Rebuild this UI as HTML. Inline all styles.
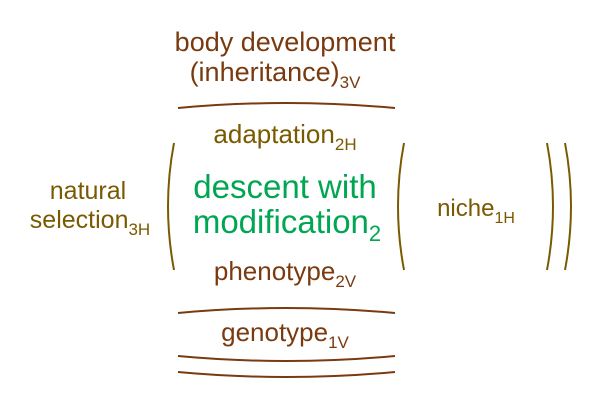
<!DOCTYPE html>
<html><head><style>
body{margin:0;background:#fff;}
svg text{font-family:"Liberation Sans",sans-serif;}
</style></head><body>
<svg width="600" height="400" viewBox="0 0 600 400">
<g fill="none" stroke-width="2">
<path d="M178,108 Q286,98 395,108" stroke="#7a3a10"/>
<path d="M178,313 Q286,303 395,313" stroke="#7a3a10"/>
<path d="M178,356 Q286,366 395,356" stroke="#7a3a10"/>
<path d="M178,372 Q286,382 395,372" stroke="#7a3a10"/>
<path d="M174,143 Q162,206 174,270" stroke="#7a5a00"/>
<path d="M404,143 Q392,206 404,270" stroke="#7a5a00"/>
<path d="M547,143 Q559,206 547,270" stroke="#7a5a00"/>
<path d="M565,143 Q577,206 565,270" stroke="#7a5a00"/>
</g>
<g text-anchor="middle">
<text x="285" y="51" font-size="27" fill="#7a3a10">body development</text>
<text x="275" y="81" font-size="27" fill="#7a3a10">(inheritance)<tspan font-size="17" dy="7">3V</tspan></text>
<text x="285" y="143" font-size="26" fill="#7a5a00">adaptation<tspan font-size="17" dy="7">2H</tspan></text>
<text x="285" y="198" font-size="33" fill="#00a651">descent with</text>
<text x="287" y="233" font-size="33" fill="#00a651">modification<tspan font-size="22" dy="8">2</tspan></text>
<text x="285" y="280" font-size="26" fill="#7a3a10">phenotype<tspan font-size="17" dy="7">2V</tspan></text>
<text x="285" y="341" font-size="26" fill="#7a3a10">genotype<tspan font-size="17" dy="7">1V</tspan></text>
<text x="88" y="199" font-size="25" fill="#7a5a00">natural</text>
<text x="90" y="228" font-size="25" fill="#7a5a00">selection<tspan font-size="17" dy="7">3H</tspan></text>
<text x="476" y="216" font-size="24" fill="#7a5a00">niche<tspan font-size="16" dy="7">1H</tspan></text>
</g>
</svg>
</body></html>
